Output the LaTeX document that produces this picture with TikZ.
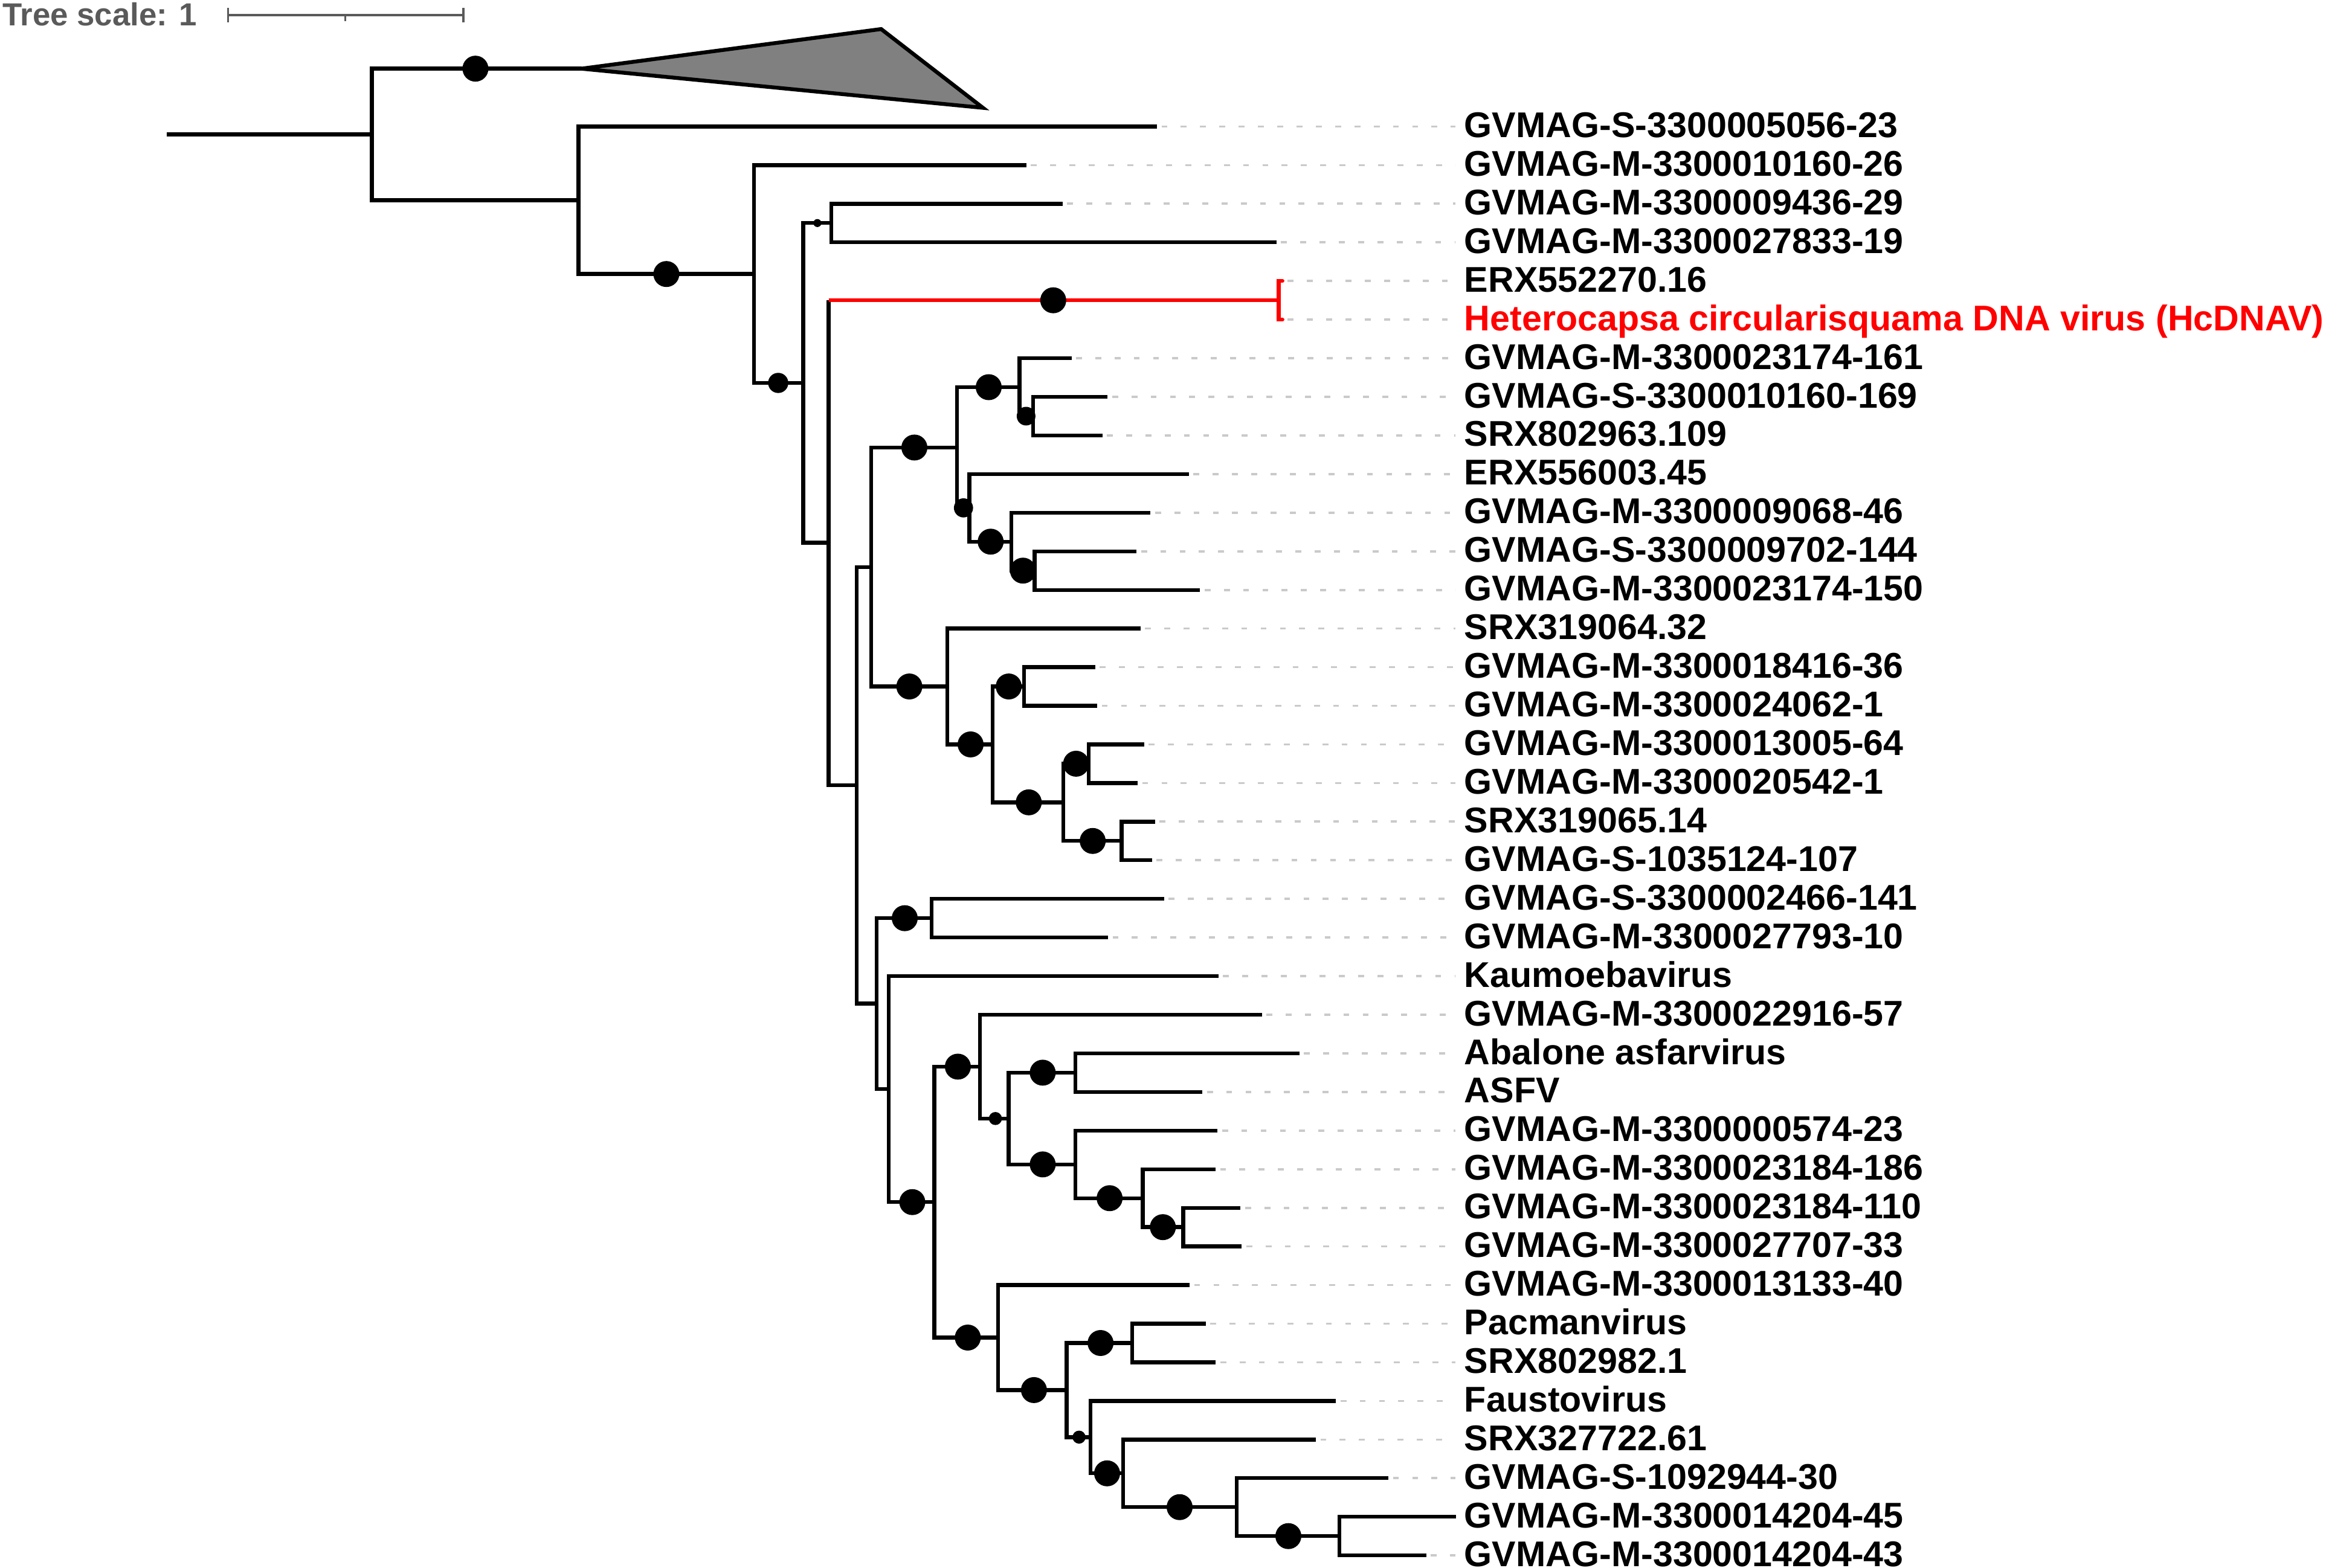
\documentclass[tikz,border=0pt]{standalone}
\usepackage{fontspec}
\setmainfont{Liberation Sans}
\definecolor{scalegray}{HTML}{5A5A5A}
\definecolor{dashgray}{HTML}{CACACA}
\definecolor{clgray}{HTML}{808080}
\begin{document}
\begin{tikzpicture}[x=1pt,y=-1pt,
  br/.style={line width=2.6pt, line join=miter},
  redbr/.style={line width=2.6pt, draw=red},
  dsh/.style={draw=dashgray, line width=1.5pt, dash pattern=on 4pt off 9pt},
  bigdot/.style={circle, fill=black, inner sep=0pt, minimum size=17.5pt},
  meddot/.style={circle, fill=black, inner sep=0pt, minimum size=13pt},
  smalldot/.style={circle, fill=black, inner sep=0pt, minimum size=8.8pt},
  tinydot/.style={circle, fill=black, inner sep=0pt, minimum size=5.4pt},
  lab/.style={anchor=west, inner sep=0pt, text height=17.3pt, text depth=0pt,
    font=\fontsize{24.1}{28}\selectfont\bfseries, yshift=1.3pt},
  scalebar/.style={draw=scalegray, line width=1.5pt},
]
\useasboundingbox (0,0) rectangle (1568,1057);
\fill[white] (0,0) rectangle (1568,1057);

% ---- tree scale ----
\node[anchor=west, inner sep=0pt, text height=15pt, text depth=0pt, text=scalegray,
  font=\fontsize{21.5}{24}\selectfont\bfseries] (ts) at (1.5,9.7) {Tree scale: 1};
\coordinate (sbA) at (153.7,10.2);
\coordinate (sbM) at (232.8,10.2);
\coordinate (sbB) at (312.4,10.2);
\draw[scalebar] (sbA) -- (sbB);
\draw[scalebar] ([yshift=5pt]sbA) -- ([yshift=-5pt]sbA);
\draw[scalebar] ([yshift=5pt]sbB) -- ([yshift=-5pt]sbB);
\draw[scalebar] (sbM) -- ([yshift=-4pt]sbM);

% ---- internal nodes ----
\coordinate (S)  at (112.6,90.67);
\coordinate (R)  at (250.6,90.67);
\coordinate (C0) at (392,46.3);
\coordinate (N1) at (390,135.04);
\coordinate (N2) at (508.3,184.77);
\coordinate (N3) at (541.5,258.2);
\coordinate (N4) at (560.5,150.4);
\coordinate (N5) at (558.6,366.0);
\coordinate (H)  at (862,202.48);
\coordinate (N6) at (577.4,529.53);
\coordinate (P)  at (587.3,382.32);
\coordinate (A1) at (645.2,301.76);
\coordinate (A2) at (687.3,261.07);
\coordinate (A3) at (696.4,280.6);
\coordinate (A4) at (653.5,342.45);
\coordinate (A5) at (681.8,365.23);
\coordinate (A6) at (697.4,384.76);
\coordinate (B1) at (638.5,462.88);
\coordinate (B2) at (669.1,501.94);
\coordinate (B3) at (690.4,462.88);
\coordinate (B4) at (716.9,541.0);
\coordinate (B5) at (733.8,514.96);
\coordinate (B6) at (756.1,567.04);
\coordinate (Q)  at (591,676.74);
\coordinate (C1) at (628,619.12);
\coordinate (D)  at (599,734.37);
\coordinate (E)  at (629.9,810.55);
\coordinate (F)  at (660.5,719.21);
\coordinate (F2) at (680,754.2);
\coordinate (F3) at (725,723.28);
\coordinate (F4) at (725,785.13);
\coordinate (F5) at (770.4,807.91);
\coordinate (F6) at (797.6,827.44);
\coordinate (G)  at (672.7,901.9);
\coordinate (G2) at (719,937.3);
\coordinate (G3) at (763.2,905.56);
\coordinate (G4) at (735.1,969.03);
\coordinate (G5) at (757.1,993.45);
\coordinate (G6) at (833.7,1016.23);
\coordinate (G7) at (903,1035.76);

% ---- leaves and labels ----
\foreach \i/\x/\t in {
  1/780/GVMAG-S-3300005056-23,
  2/692/GVMAG-M-3300010160-26,
  3/716.4/GVMAG-M-3300009436-29,
  4/860.5/GVMAG-M-3300027833-19,
  7/722.3/GVMAG-M-3300023174-161,
  8/746.7/GVMAG-S-3300010160-169,
  9/743.1/SRX802963.109,
  10/801.5/ERX556003.45,
  11/775.6/GVMAG-M-3300009068-46,
  12/766.2/GVMAG-S-3300009702-144,
  13/809/GVMAG-M-3300023174-150,
  14/768.8/SRX319064.32,
  15/738.4/GVMAG-M-3300018416-36,
  16/739.7/GVMAG-M-3300024062-1,
  17/771.4/GVMAG-M-3300013005-64,
  18/767/GVMAG-M-3300020542-1,
  19/778.7/SRX319065.14,
  20/776.6/GVMAG-S-1035124-107,
  21/784.7/GVMAG-S-3300002466-141,
  22/747/GVMAG-M-3300027793-10,
  23/821.5/Kaumoebavirus,
  24/850.6/GVMAG-M-3300022916-57,
  25/876/Abalone asfarvirus,
  26/810.6/ASFV,
  27/820.8/GVMAG-M-3300000574-23,
  28/819.5/GVMAG-M-3300023184-186,
  29/836.3/GVMAG-M-3300023184-110,
  30/837.1/GVMAG-M-3300027707-33,
  31/802/GVMAG-M-3300013133-40,
  32/812.8/Pacmanvirus,
  33/819.6/SRX802982.1,
  34/900.6/Faustovirus,
  35/887.1/SRX327722.61,
  36/936/GVMAG-S-1092944-30,
  38/961.4/GVMAG-M-3300014204-43}{
  \coordinate (L\i) at (\x,{85.3+26.04*(\i-1)});
  \node[lab] (T\i) at (987,{85.3+26.04*(\i-1)}) {\t};
  \draw[dsh] ([xshift=3pt]L\i) -- ([xshift=-6pt]T\i.west |- L\i);
}
\coordinate (L5) at (862,189.46);
\coordinate (L6) at (862,215.5);
\coordinate (L37) at (981.7,1022.74);
\node[lab] (T5) at (987,189.46) {ERX552270.16};
\node[lab, text=red] (T6) at (987,215.5) {Heterocapsa circularisquama DNA virus (HcDNAV)};
\node[lab] (T37) at (987,1022.74) {GVMAG-M-3300014204-45};
\draw[dsh] ([xshift=6pt]L5) -- ([xshift=-6pt]T5.west |- L5);
\draw[dsh] ([xshift=6pt]L6) -- ([xshift=-6pt]T6.west |- L6);

% ---- collapsed clade ----
\coordinate (K1) at (594,19.6);
\coordinate (K2) at (662.6,72.7);
\draw[br, fill=clgray, line join=miter] (C0) -- (K1) -- (K2) -- cycle;

% ---- branches ----
\draw[br] (S) -- (R);
\draw[br] (R) |- (C0);
\draw[br] (R) |- (N1);
\draw[br] (N1) |- (L1);
\draw[br] (N1) |- (N2);
\draw[br] (N2) |- (L2);
\draw[br] (N2) |- (N3);
\draw[br] (N3) |- (N4);
\draw[br] (N3) |- (N5);
\draw[br] (N4) |- (L3);
\draw[br] (N4) |- (L4);
\draw[br] (N5) -- (N5 |- H);
\draw[br] (N5) |- (N6);
\draw[redbr] (N5 |- H) -- (H);
\draw[redbr, line cap=round] ([xshift=2.5pt]L5) -- (L5) -- (L6) -- ([xshift=2.5pt]L6);
\draw[br] (N6) |- (P);
\draw[br] (N6) |- (Q);
\draw[br] (P) |- (A1);
\draw[br] (P) |- (B1);
\draw[br] (A1) |- (A2);
\draw[br] (A1) |- (A4);
\draw[br] (A2) |- (L7);
\draw[br] (A2) |- (A3);
\draw[br] (A3) |- (L8);
\draw[br] (A3) |- (L9);
\draw[br] (A4) |- (L10);
\draw[br] (A4) |- (A5);
\draw[br] (A5) |- (L11);
\draw[br] (A5) |- (A6);
\draw[br] (A6) |- (L12);
\draw[br] (A6) |- (L13);
\draw[br] (B1) |- (L14);
\draw[br] (B1) |- (B2);
\draw[br] (B2) |- (B3);
\draw[br] (B2) |- (B4);
\draw[br] (B3) |- (L15);
\draw[br] (B3) |- (L16);
\draw[br] (B4) |- (B5);
\draw[br] (B4) |- (B6);
\draw[br] (B5) |- (L17);
\draw[br] (B5) |- (L18);
\draw[br] (B6) |- (L19);
\draw[br] (B6) |- (L20);
\draw[br] (Q) |- (C1);
\draw[br] (Q) |- (D);
\draw[br] (C1) |- (L21);
\draw[br] (C1) |- (L22);
\draw[br] (D) |- (L23);
\draw[br] (D) |- (E);
\draw[br] (E) |- (F);
\draw[br] (E) |- (G);
\draw[br] (F) |- (L24);
\draw[br] (F) |- (F2);
\draw[br] (F2) |- (F3);
\draw[br] (F2) |- (F4);
\draw[br] (F3) |- (L25);
\draw[br] (F3) |- (L26);
\draw[br] (F4) |- (L27);
\draw[br] (F4) |- (F5);
\draw[br] (F5) |- (L28);
\draw[br] (F5) |- (F6);
\draw[br] (F6) |- (L29);
\draw[br] (F6) |- (L30);
\draw[br] (G) |- (L31);
\draw[br] (G) |- (G2);
\draw[br] (G2) |- (G3);
\draw[br] (G2) |- (G4);
\draw[br] (G3) |- (L32);
\draw[br] (G3) |- (L33);
\draw[br] (G4) |- (L34);
\draw[br] (G4) |- (G5);
\draw[br] (G5) |- (L35);
\draw[br] (G5) |- (G6);
\draw[br] (G6) |- (L36);
\draw[br] (G6) |- (G7);
\draw[br] (G7) |- (L37);
\draw[br] (G7) |- (L38);

% ---- support dots ----
\node[bigdot] (d1) at (320.5,46.3) {};
\node[bigdot] (d2) at (449.2,184.77) {};
\node[meddot, minimum size=13.6pt] (d3) at (524.6,258.2) {};
\node[tinydot] (d4) at (551,150.4) {};
\node[bigdot] (d5) at (710,202.48) {};
\node[bigdot] (d6) at (616.4,301.76) {};
\node[bigdot] (d7) at (613,462.88) {};
\node[bigdot] (d8) at (666.5,261.07) {};
\node[meddot, minimum size=12.6pt] (d9) at (691.7,280.6) {};
\node[meddot, minimum size=12.9pt] (d10) at (649.5,342.45) {};
\node[bigdot] (d11) at (667.8,365.23) {};
\node[bigdot] (d12) at (689.6,384.76) {};
\node[bigdot] (d13) at (654.3,501.94) {};
\node[bigdot] (d14) at (680,462.88) {};
\node[bigdot] (d15) at (693.5,541.0) {};
\node[bigdot] (d16) at (725.4,514.96) {};
\node[bigdot] (d17) at (736.6,567.04) {};
\node[bigdot] (d18) at (609.9,619.12) {};
\node[bigdot] (d19) at (615,810.55) {};
\node[bigdot] (d20) at (645.7,719.21) {};
\node[smalldot] (d21) at (671,754.2) {};
\node[bigdot] (d22) at (702.9,723.28) {};
\node[bigdot] (d23) at (702.9,785.13) {};
\node[bigdot] (d24) at (748,807.91) {};
\node[bigdot] (d25) at (783.9,827.44) {};
\node[bigdot] (d26) at (652.4,901.9) {};
\node[bigdot] (d27) at (697,937.3) {};
\node[bigdot] (d28) at (741.9,905.56) {};
\node[smalldot] (d29) at (727.4,969.03) {};
\node[bigdot] (d30) at (746.3,993.45) {};
\node[bigdot] (d31) at (795.2,1016.23) {};
\node[bigdot] (d32) at (868.5,1035.76) {};
\end{tikzpicture}
\end{document}
